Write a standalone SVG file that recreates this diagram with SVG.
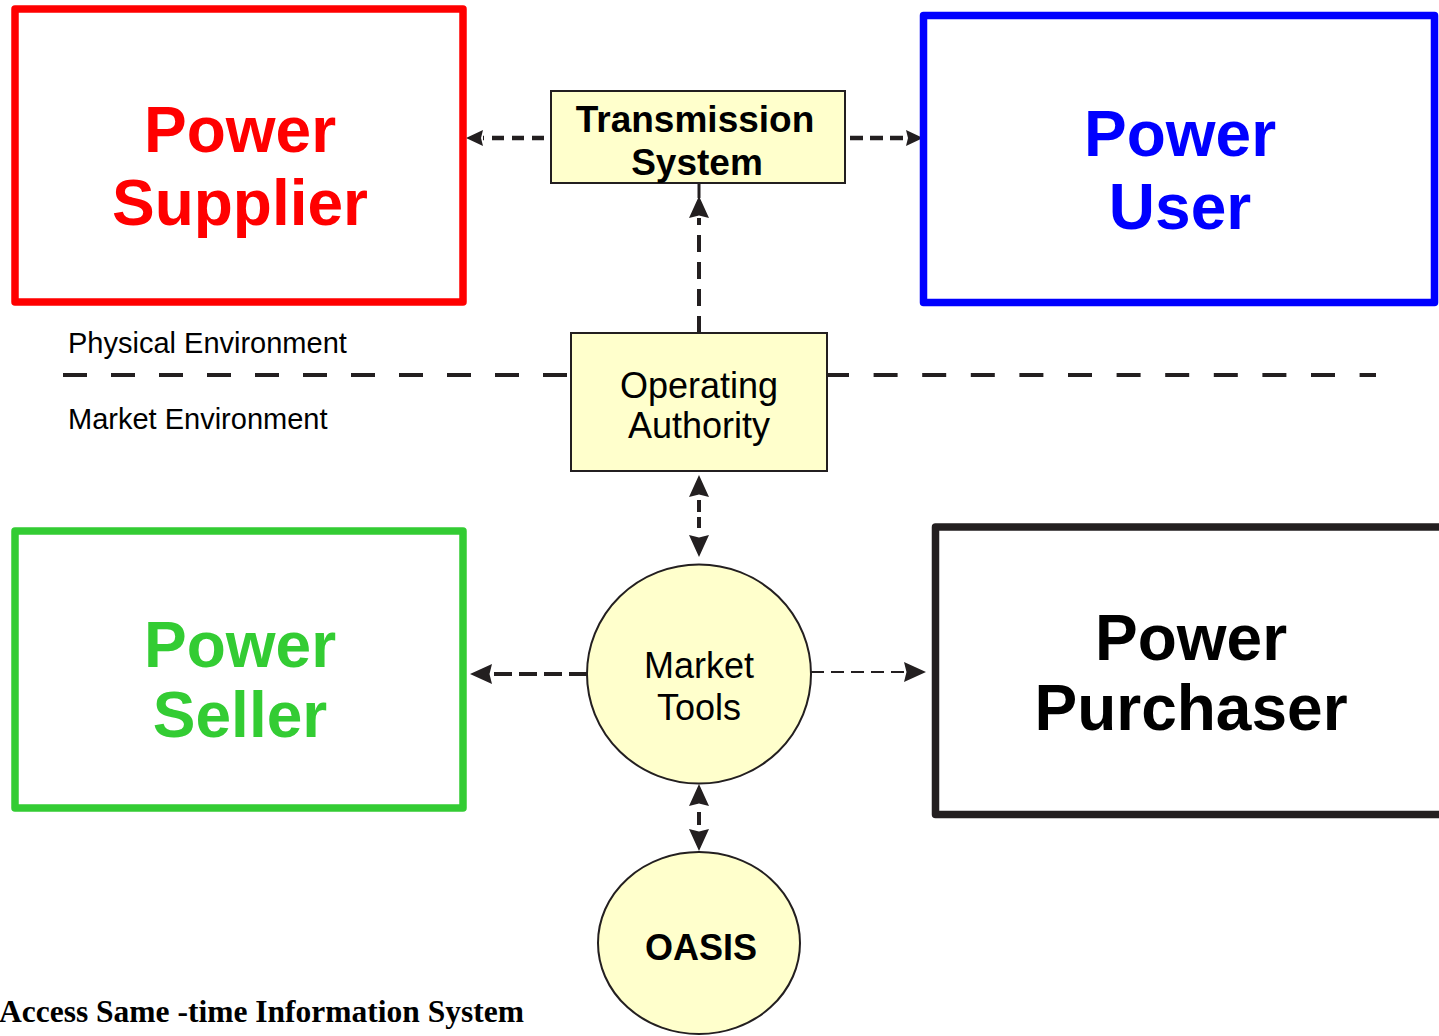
<svg xmlns="http://www.w3.org/2000/svg" width="1439" height="1036" viewBox="0 0 1439 1036">
<style>
.box{fill:#fff;stroke-width:7.5;stroke-linejoin:round}
.big{font-family:"Liberation Sans",Arial,sans-serif;font-weight:bold;font-size:64px;text-anchor:middle}
.yel{fill:#ffffcc;stroke:#231f20;stroke-width:2}
.lbl{font-family:"Liberation Sans",Arial,sans-serif;font-size:36px;text-anchor:middle;fill:#000}
.lblb{font-family:"Liberation Sans",Arial,sans-serif;font-size:37px;font-weight:bold;text-anchor:middle;fill:#000}
.env{font-family:"Liberation Sans",Arial,sans-serif;font-size:29px;fill:#000}
.con{stroke:#231f20;fill:none}
.ah{fill:#231f20}
</style>
<defs>
<marker id="aS" markerUnits="userSpaceOnUse" markerWidth="17" markerHeight="18" viewBox="0 -9 17 18" refX="0" refY="0" orient="auto-start-reverse"><path class="ah" d="M0,-8 L17,0 L0,8 L2,0 Z"/></marker>
<marker id="aL" markerUnits="userSpaceOnUse" markerWidth="22" markerHeight="20" viewBox="0 -10 22 20" refX="0" refY="0" orient="auto-start-reverse"><path class="ah" d="M0,-10 L22,0 L0,10 L2.5,0 Z"/></marker>
</defs>

<g id="separator">
<line class="con" x1="63" y1="375" x2="568" y2="375" stroke-width="4" stroke-dasharray="24 24"/>
<line class="con" x1="828" y1="375" x2="1376" y2="375" stroke-width="4" stroke-dasharray="24 24.6" stroke-dashoffset="3"/>
<text class="env" x="68" y="353">Physical Environment</text>
<text class="env" x="68" y="429">Market Environment</text>
</g>

<g id="connectors">
<line class="con" x1="544" y1="138" x2="483" y2="138" stroke-width="4.5" stroke-dasharray="12 8" marker-end="url(#aS)"/>
<line class="con" x1="850" y1="138" x2="906" y2="138" stroke-width="4.5" stroke-dasharray="13 7" marker-end="url(#aS)"/>
<line class="con" x1="699" y1="333" x2="699" y2="218" stroke-width="4" stroke-dasharray="17 10" marker-end="url(#aL)"/>
<line class="con" x1="699" y1="183" x2="699" y2="198" stroke-width="3"/>
<line class="con" x1="699" y1="497" x2="699" y2="535" stroke-width="4" stroke-dasharray="0 3 12 5 11 50" marker-start="url(#aL)" marker-end="url(#aL)"/>
<line class="con" x1="587" y1="674" x2="492" y2="674" stroke-width="4" stroke-dasharray="18 7" marker-end="url(#aL)"/>
<line class="con" x1="811" y1="672" x2="904" y2="672" stroke-width="2" stroke-dasharray="13 7" marker-end="url(#aL)"/>
<line class="con" x1="699" y1="806" x2="699" y2="829" stroke-width="4" stroke-dasharray="0 6 13 50" marker-start="url(#aL)" marker-end="url(#aL)"/>
</g>

<g id="power-supplier">
<rect class="box" x="15" y="9" width="448" height="293" stroke="#ff0000"/>
<text class="big" x="240" y="152" fill="#ff0000">Power</text>
<text class="big" x="240" y="225" fill="#ff0000">Supplier</text>
</g>

<g id="power-user">
<rect class="box" x="923.5" y="15.5" width="511" height="287" stroke="#0000ff"/>
<text class="big" x="1180" y="156" fill="#0000ff">Power</text>
<text class="big" x="1180" y="229" fill="#0000ff">User</text>
</g>

<g id="power-seller">
<rect class="box" x="15" y="531" width="448" height="277" stroke="#33cc33"/>
<text class="big" x="240" y="667" fill="#33cc33">Power</text>
<text class="big" x="240" y="737" fill="#33cc33">Seller</text>
</g>

<g id="power-purchaser">
<rect class="box" x="935.5" y="527" width="530" height="287.5" stroke="#231f20"/>
<text class="big" x="1191" y="660" fill="#000">Power</text>
<text class="big" x="1191" y="730" fill="#000">Purchaser</text>
</g>

<g id="transmission-system">
<rect class="yel" x="551" y="91" width="294" height="92"/>
<text class="lblb" x="695" y="132">Transmission</text>
<text class="lblb" x="697" y="175">System</text>
</g>

<g id="operating-authority">
<rect class="yel" x="571" y="333" width="256" height="138"/>
<text class="lbl" x="699" y="398">Operating</text>
<text class="lbl" x="699" y="438">Authority</text>
</g>

<g id="market-tools">
<ellipse class="yel" cx="699" cy="674" rx="112" ry="109.5"/>
<text class="lbl" x="699" y="678">Market</text>
<text class="lbl" x="699" y="720">Tools</text>
</g>

<g id="oasis">
<ellipse class="yel" cx="699" cy="943" rx="101" ry="91"/>
<text class="lblb" x="701" y="960" style="font-size:36px">OASIS</text>
</g>

<text x="-1" y="1022" style="font-family:'Liberation Serif','Times New Roman',serif;font-weight:bold;font-size:31.5px;fill:#000">Access Same -time Information System</text>
</svg>
